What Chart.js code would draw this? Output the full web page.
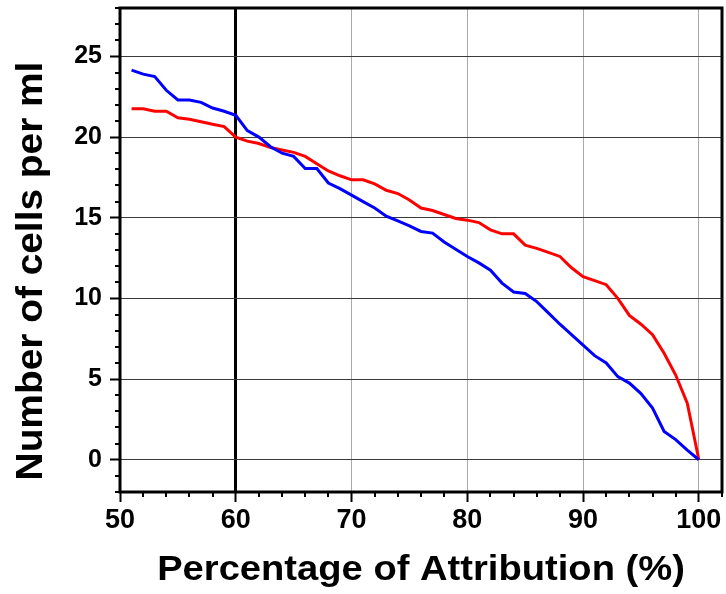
<!DOCTYPE html>
<html>
<head>
<meta charset="utf-8">
<script src="https://cdn.jsdelivr.net/npm/chart.js@4.4.1/dist/chart.umd.min.js"></script>
<style>
  html, body { margin: 0; padding: 0; background: #fff; }
  #wrap { width: 726px; height: 594px; }
</style>
</head>
<body>
<div id="wrap"><canvas id="cells-chart"></canvas></div>
<script>
const attribution = [51, 52, 53, 54, 55, 56, 57, 58, 59, 60,
  61, 62, 63, 64, 65, 66, 67, 68, 69, 70,
  71, 72, 73, 74, 75, 76, 77, 78, 79, 80,
  81, 82, 83, 84, 85, 86, 87, 88, 89, 90,
  91, 92, 93, 94, 95, 96, 97, 98, 99, 100];

const blueCells = [24.15, 23.9, 23.75, 22.9, 22.3, 22.3, 22.15, 21.8, 21.6, 21.35,
  20.4, 20.0, 19.4, 19.0, 18.8, 18.05, 18.05, 17.15, 16.8, 16.4,
  16.0, 15.6, 15.1, 14.8, 14.5, 14.15, 14.05, 13.5, 13.05, 12.6,
  12.2, 11.75, 10.95, 10.4, 10.3, 9.8, 9.1, 8.4, 7.75, 7.1,
  6.45, 6.0, 5.15, 4.75, 4.1, 3.2, 1.75, 1.25, 0.6, 0];

const redCells = [21.75, 21.75, 21.6, 21.6, 21.2, 21.1, 20.95, 20.8, 20.65, 20.0,
  19.75, 19.6, 19.35, 19.2, 19.05, 18.8, 18.35, 17.9, 17.6, 17.35,
  17.35, 17.1, 16.7, 16.5, 16.1, 15.6, 15.45, 15.2, 14.95, 14.85,
  14.7, 14.25, 14.0, 14.0, 13.3, 13.1, 12.85, 12.6, 11.9, 11.35,
  11.1, 10.85, 10.0, 8.95, 8.4, 7.75, 6.6, 5.25, 3.5, 0];

const xTicks = [50, 60, 70, 80, 90, 100];
const yTicks = [0, 5, 10, 15, 20, 25];
const xTitle = 'Percentage of Attribution (%)';
const yTitle = 'Number of cells per ml';

const FONT = '"Liberation Sans", Arial, sans-serif';

// minor tick marks, frame around the plot, and the two axis titles
const framePlugin = {
  id: 'frame',
  afterDraw(chart) {
    const { ctx, chartArea: a, scales } = chart;
    ctx.save();
    ctx.strokeStyle = '#000';
    ctx.lineWidth = 2;
    ctx.beginPath();
    for (let v = -2; v <= 28; v++) {
      if (v % 5 === 0) continue;
      const y = Math.round(scales.y.getPixelForValue(v));
      ctx.moveTo(a.left - 5, y);
      ctx.lineTo(a.left, y);
    }
    for (let v = 52; v <= 102; v += 2) {
      if (v % 10 === 0) continue;
      const x = Math.round(scales.x.getPixelForValue(v));
      ctx.moveTo(x, a.bottom);
      ctx.lineTo(x, a.bottom + 5);
    }
    ctx.stroke();
    ctx.lineWidth = 3;
    ctx.strokeRect(a.left, a.top, a.right - a.left, a.bottom - a.top);

    ctx.fillStyle = '#000';
    ctx.textAlign = 'center';
    ctx.textBaseline = 'alphabetic';
    ctx.font = 'bold 35px ' + FONT;
    ctx.save();
    ctx.translate((a.left + a.right) / 2, 580);
    ctx.scale(1.09, 1);
    ctx.fillText(xTitle, 0, 0);
    ctx.restore();

    ctx.font = 'bold 37px ' + FONT;
    ctx.save();
    ctx.translate(42, 271);
    ctx.rotate(-Math.PI / 2);
    ctx.scale(1.05, 1);
    ctx.fillText(yTitle, 0, 0);
    ctx.restore();
    ctx.restore();
  }
};

new Chart(document.getElementById('cells-chart'), {
  type: 'line',
  data: {
    labels: attribution,
    datasets: [
      {
        label: 'Blue',
        data: attribution.map((x, i) => ({ x: x, y: blueCells[i] })),
        borderColor: '#0000ff',
        borderWidth: 3,
        pointRadius: 0,
        tension: 0,
      },
      {
        label: 'Red',
        data: attribution.map((x, i) => ({ x: x, y: redCells[i] })),
        borderColor: '#ff0000',
        borderWidth: 3,
        pointRadius: 0,
        tension: 0,
      },
    ]
  },
  options: {
    responsive: true,
    maintainAspectRatio: false,
    animation: false,
    layout: { padding: { top: 8, right: 4, left: 0, bottom: 0 } },
    plugins: { legend: { display: false }, tooltip: { enabled: false } },
    scales: {
      x: {
        type: 'linear',
        min: 50,
        max: 102,
        afterFit(s) { s.height = 102; s.paddingLeft = 0; s.paddingRight = 0; },
        afterBuildTicks(s) { s.ticks = xTicks.map(v => ({ value: v })); },
        border: { display: false },
        grid: {
          color: c => c.tick && c.tick.value === 60 ? '#000' : '#aaaaaa',
          lineWidth: c => c.tick && c.tick.value === 60 ? 3 : 1,
          tickColor: '#000',
          tickWidth: 2,
          tickLength: 10,
        },
        ticks: {
          color: '#000',
          padding: 2,
          maxRotation: 0,
          font: { family: FONT, size: 27, weight: 'bold' },
        },
      },
      y: {
        min: -2,
        max: 28,
        afterFit(s) { s.width = 120; s.paddingTop = 0; s.paddingBottom = 0; },
        afterBuildTicks(s) { s.ticks = yTicks.map(v => ({ value: v })); },
        border: { display: false },
        grid: {
          color: '#3a3a3a',
          lineWidth: 1,
          tickColor: '#000',
          tickWidth: 2,
          tickLength: 10,
        },
        ticks: {
          color: '#000',
          padding: 8,
          font: { family: FONT, size: 25, weight: 'bold' },
        },
      },
    },
  },
  plugins: [framePlugin],
});
</script>
</body>
</html>
